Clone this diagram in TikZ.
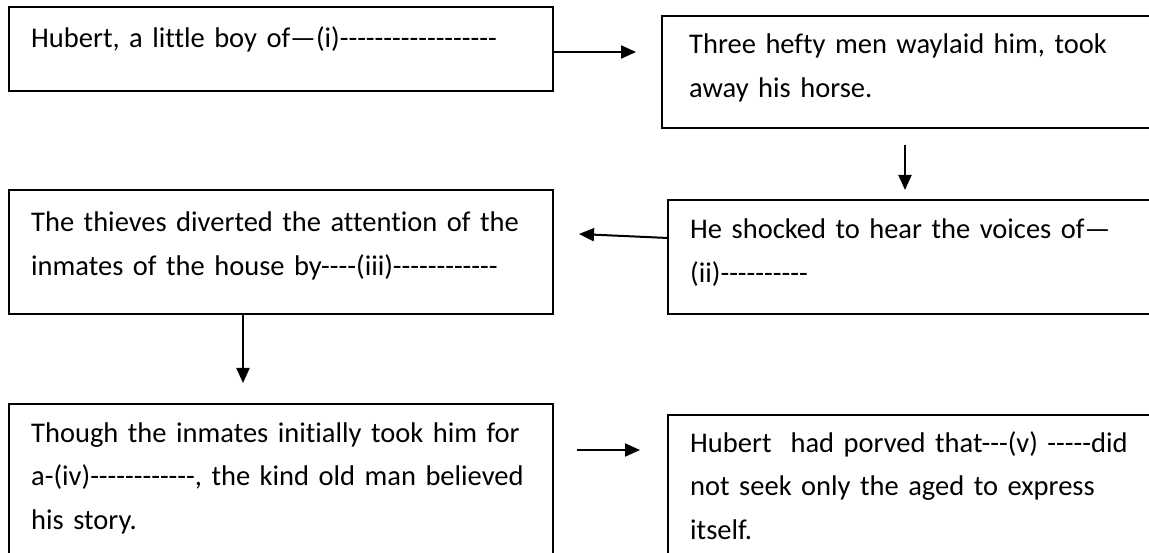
\documentclass[tikz,border=0pt]{standalone}
\usepackage{fontspec}
\setmainfont{Carlito}[Ligatures={TeXOff,NoCommon}]
\usetikzlibrary{arrows.meta}
\begin{document}
\begin{tikzpicture}[x=1pt,y=-1pt,
  box/.style={draw=black, line width=1.3pt, rectangle, inner sep=0pt, outer sep=0pt, anchor=north west},
  txt/.style={anchor=base west, inner sep=0pt, text width=540pt, align=left, font=\fontsize{28.5}{43.5}\selectfont},
  arr/.style={line width=2pt, -{Triangle[length=15pt,width=13pt]}}]
\useasboundingbox (0,0) rectangle (1149,553);
\clip (0,0) rectangle (1149,553);
% boxes
\node[box, minimum width=544pt, minimum height=84pt] (A) at (9,7) {};
\node[box, minimum width=510pt, minimum height=112pt] (B) at (662,16) {};
\node[box, minimum width=510pt, minimum height=114pt] (C) at (668,200) {};
\node[box, minimum width=544pt, minimum height=124pt] (D) at (9,190) {};
\node[box, minimum width=544pt, minimum height=170pt] (E) at (9,404) {};
\node[box, minimum width=510pt, minimum height=160pt] (F) at (668,415) {};
% texts
\node[txt] (At) at (31,48) {Hubert, a little boy of—(i)------------------};
\node[txt] (Bt) at (689,54) {Three hefty men waylaid him, took\\away his horse.};
\node[txt] (Ct) at (690,239) {He shocked to hear the voices of—\\(ii)----------};
\node[txt] (Dt) at (31,232) {The thieves diverted the attention of the\\inmates of the house by----(iii)------------};
\node[txt] (Et) at (31,442) {Though the inmates initially took him for\\a-(iv)------------, the kind old man believed\\his story.};
\node[txt] (Ft) at (690,452) {Hubert\ \ had porved that---(v) -----did\\not seek only the aged to express\\itself.};
% connectors
\coordinate (ab) at (636,52);
\draw[arr] (A.east |- ab) -- (ab);
\coordinate (bc1) at (905,145);
\coordinate (bc2) at (905,190);
\draw[arr] (bc1) -- (bc2);
\coordinate (cd) at (579,234);
\draw[arr] ([yshift=19pt]C.west) -- (cd);
\coordinate (de) at (243,383);
\draw[arr] (D.south -| de) -- (de);
\coordinate (ef1) at (577,450);
\coordinate (ef2) at (640,450);
\draw[arr] (ef1) -- (ef2);
\end{tikzpicture}
\end{document}
